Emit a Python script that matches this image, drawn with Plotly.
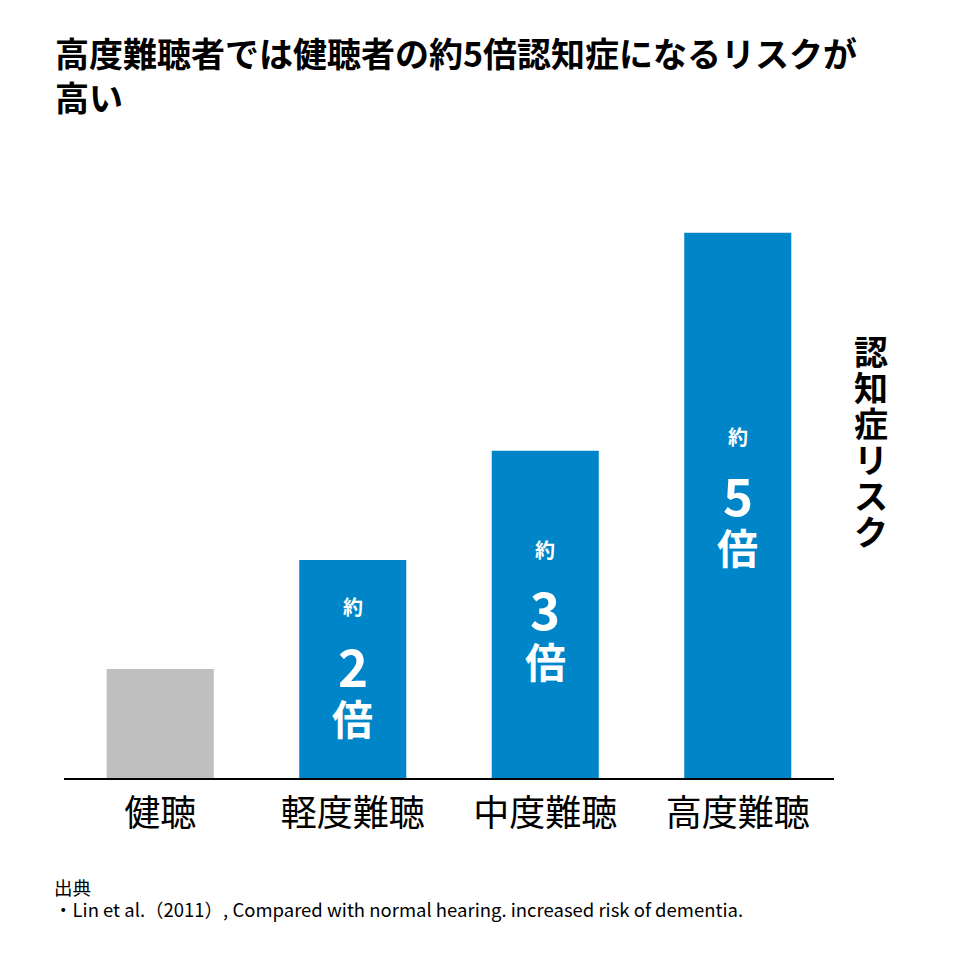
import plotly.graph_objects as go

# Data
categories = ['健聴', '軽度難聴', '中度難聴', '高度難聴']
risk = [1, 2, 3, 5]
bar_colors = ['#BFBFBF', '#0086C8', '#0086C8', '#0086C8']
multiplier_labels = ['', '2', '3', '5']

title_text = '高度難聴者では健聴者の約5倍認知症になるリスクが<br>高い'
side_label = '認知症リスク'
source_lines = ['出典', '・Lin et al.（2011）, Compared with normal hearing. increased risk of dementia.']

FONT = 'Noto Sans CJK JP'
W = H = 952  # page adds an 8px body margin

fig = go.Figure()
fig.add_trace(go.Bar(
    x=list(range(len(categories))), y=risk,
    marker=dict(color=bar_colors, line=dict(width=0)),
    width=0.556, hoverinfo='skip'
))

# in-bar labels: 約 / number / 倍
annotations = []
for i, (v, lab) in enumerate(zip(risk, multiplier_labels)):
    if not lab:
        continue
    yc = v * 0.52
    annotations.append(dict(x=i, y=yc, text='<b>約</b>', showarrow=False, yshift=58,
                            font=dict(family=FONT, size=20, color='white')))
    annotations.append(dict(x=i, y=yc, text='<b>' + lab + '</b>', showarrow=False, yshift=0,
                            font=dict(family=FONT, size=51, color='white')))
    annotations.append(dict(x=i, y=yc, text='<b>倍</b>', showarrow=False, yshift=-52,
                            font=dict(family=FONT, size=41, color='white')))

# vertical side label
for k, ch in enumerate(side_label):
    annotations.append(dict(xref='paper', yref='paper', x=1.0, y=0, xanchor='center', yanchor='middle',
                            xshift=(871 - 834), yshift=(778 - 350) - k * 36,
                            text='<b>' + ch + '</b>', showarrow=False,
                            font=dict(family=FONT, size=34, color='black')))

# source
for k, line in enumerate(source_lines):
    annotations.append(dict(xref='paper', yref='paper', x=0, y=0, xanchor='left', yanchor='middle',
                            xshift=(52 - 64), yshift=-(887 - 778) - k * 22,
                            text=line, showarrow=False,
                            font=dict(family=FONT, size=18.5, color='black')))

fig.update_layout(
    width=W, height=H,
    margin=dict(l=56, r=W - 826, t=192, b=H - 770),
    paper_bgcolor='white', plot_bgcolor='white',
    showlegend=False,
    title=dict(text='<b>' + title_text + '</b>', xref='container', yref='container',
               x=47 / W, xanchor='left', y=1 - 59 / H, yanchor='top',
               font=dict(family=FONT, size=34, color='black')),
    xaxis=dict(tickmode='array', tickvals=list(range(len(categories))), ticktext=categories,
               range=[-0.5, 3.5], showline=True, linecolor='black', linewidth=1.5,
               showgrid=False, zeroline=False, ticks='', ticklabelstandoff=3,
               tickfont=dict(family=FONT, size=36, color='black')),
    yaxis=dict(range=[0, 5.3], visible=False, showgrid=False, zeroline=False),
    annotations=annotations,
)

fig.write_html('out.html')
